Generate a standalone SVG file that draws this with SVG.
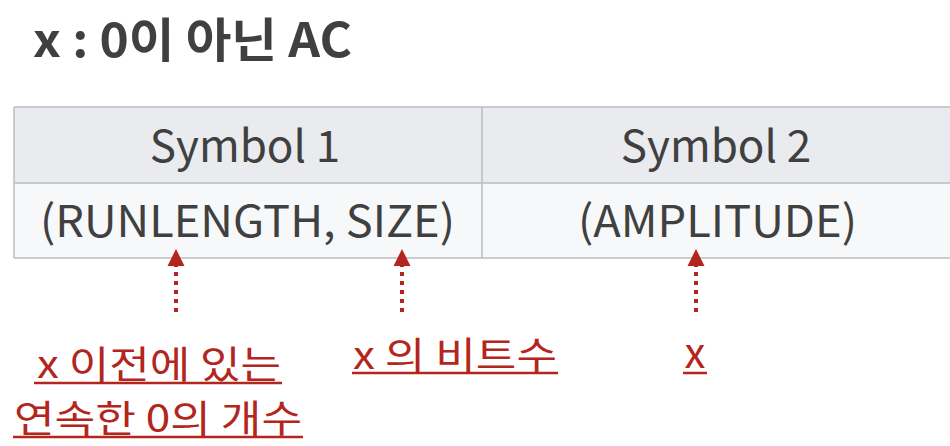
<svg xmlns="http://www.w3.org/2000/svg" width="950" height="446" viewBox="0 0 950 446">
<defs>
<style>
.t{font-family:"Noto Sans CJK KR","Noto Sans",sans-serif;}
.title{font-size:47px;font-weight:bold;fill:#404040;}
.cell{font-size:44px;fill:#404040;text-anchor:middle;}
.lbl{font-size:38px;fill:#b3261e;text-anchor:middle;}
.ul{stroke:#b3261e;stroke-width:2.5;}
.grid{stroke:#b9bdc4;stroke-width:1.5;fill:none;}
.conn{stroke:#b3261e;stroke-width:4;stroke-dasharray:4 5;fill:none;}
.head{fill:#b3261e;}
</style>
</defs>
<rect width="950" height="446" fill="#ffffff"/>
<text class="t title" x="33" y="57" textLength="319" lengthAdjust="spacingAndGlyphs">x : 0이 아닌 AC</text>
<g id="table">
<rect x="14" y="107" width="940" height="76" fill="#e9ebef"/>
<rect x="14" y="183" width="940" height="75" fill="#f7f8fa"/>
<path class="grid" d="M14,107 H952 M14,183 H952 M14,258 H952 M14,107 V258 M482,107 V258"/>
</g>
<g id="symbol1">
<text class="t cell" x="245" y="162">Symbol 1</text>
<text class="t cell" x="247.5" y="237" textLength="415" lengthAdjust="spacingAndGlyphs">(RUNLENGTH, SIZE)</text>
</g>
<g id="symbol2">
<text class="t cell" x="716" y="162">Symbol 2</text>
<text class="t cell" x="717.5" y="237" textLength="279" lengthAdjust="spacingAndGlyphs">(AMPLITUDE)</text>
</g>
<g id="connectors">
<line class="conn" x1="176" y1="312" x2="176" y2="266"/>
<path class="head" d="M167.5,266 L176,249 L184.5,266 Z"/>
<line class="conn" x1="402" y1="312" x2="402" y2="266"/>
<path class="head" d="M393.5,266 L402,249 L410.5,266 Z"/>
<line class="conn" x1="696" y1="312" x2="696" y2="266"/>
<path class="head" d="M687.5,266 L696,249 L704.5,266 Z"/>
</g>
<g id="label-runlength">
<text class="t lbl" x="159" y="378" textLength="244" lengthAdjust="spacingAndGlyphs">x 이전에 있는</text>
<line class="ul" x1="34" y1="383" x2="282" y2="383"/>
<text class="t lbl" x="158" y="432" textLength="288" lengthAdjust="spacingAndGlyphs">연속한 0의 개수</text>
<line class="ul" x1="13" y1="437" x2="303" y2="437"/>
</g>
<g id="label-size">
<text class="t lbl" x="455" y="369" textLength="204" lengthAdjust="spacingAndGlyphs">x 의 비트수</text>
<line class="ul" x1="352" y1="373" x2="558" y2="373"/>
</g>
<g id="label-amplitude">
<text class="t lbl" x="695" y="368" style="font-size:42px">x</text>
<line class="ul" x1="683" y1="373" x2="707" y2="373"/>
</g>
</svg>
